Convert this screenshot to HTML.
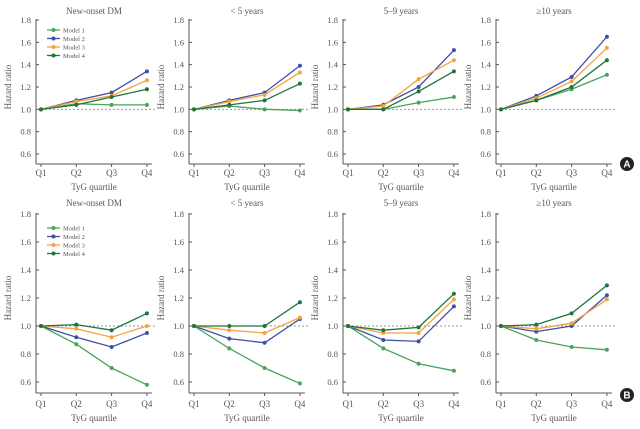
<!DOCTYPE html>
<html><head><meta charset="utf-8"><style>
body{margin:0;background:#fff;width:640px;height:429px;overflow:hidden}
svg{display:block}
text{font-family:"Liberation Serif",serif;fill:#555}
</style></head><body>
<svg id="c" width="640" height="429"></svg>
<script>
const categories=["Q1","Q2","Q3","Q4"];
const models=["Model 1","Model 2","Model 3","Model 4"];
const colors=["#4aa35c","#3f4fa8","#f5a33c","#1f743c"];
const yTicks=[0.6,0.8,1.0,1.2,1.4,1.6,1.8];
const titles=["New-onset DM","< 5 years","5–9 years","≥10 years"];
const topP1=[[1,1.05,1.04,1.04],[1,1.08,1.15,1.34],[1,1.07,1.12,1.26],[1,1.04,1.11,1.18]];
const topP2=[[1,1.03,1.0,0.99],[1,1.08,1.15,1.39],[1,1.07,1.13,1.33],[1,1.04,1.08,1.23]];
const topP3=[[1,1.0,1.06,1.11],[1,1.04,1.2,1.53],[1,1.03,1.27,1.44],[1,1.0,1.16,1.34]];
const topP4=[[1,1.08,1.18,1.31],[1,1.12,1.29,1.65],[1,1.1,1.25,1.55],[1,1.08,1.2,1.44]];
const botP1=[[1,0.87,0.70,0.58],[1,0.92,0.85,0.95],[1,0.98,0.92,1.0],[1,1.01,0.97,1.09]];
const botP2=[[1,0.84,0.70,0.59],[1,0.91,0.88,1.05],[1,0.97,0.95,1.06],[1,1.0,1.0,1.17]];
const botP3=[[1,0.84,0.73,0.68],[1,0.90,0.89,1.14],[1,0.95,0.95,1.19],[1,0.97,0.99,1.23]];
const botP4=[[1,0.90,0.85,0.83],[1,0.96,1.0,1.22],[1,0.98,1.02,1.19],[1,1.01,1.09,1.29]];
const topData=[topP1,topP2,topP3,topP4];
const botData=[botP1,botP2,botP3,botP4];

const svg=document.getElementById('c');
const NS="http://www.w3.org/2000/svg";
function el(t,a,p){const e=document.createElementNS(NS,t);for(const k in a)e.setAttribute(k,a[k]);(p||svg).appendChild(e);return e;}
function txt(s,a,p){const e=el('text',a,p);e.textContent=s;return e;}

const rows=[{data:topData,y18:20,y06:154,bottom:164,ql:176,xl:190,tl:14,name:'top',badge:'A',by:164},
            {data:botData,y18:214,y06:382,bottom:393,ql:407,xl:421,tl:206,name:'bottom',badge:'B',by:395}];
const offs=[0,153,307,460];
rows.forEach((r,ri)=>{
  const yS=v=>r.y06+(v-0.6)*(r.y18-r.y06)/1.2;
  r.data.forEach((pd,pi)=>{
    const g=el('g',{});
    
    
    const ax=36+offs[pi];
    const xS=i=>ax+5+i*35.3;
    const t=txt(titles[pi],{x:ax+58,y:r.tl,'font-size':9,'text-anchor':'middle'},g);
    
    
    el('line',{x1:ax,y1:r.y18-1,x2:ax,y2:r.bottom,stroke:'#555','stroke-width':1},g);
    el('line',{x1:ax,y1:r.bottom,x2:xS(3)+5,y2:r.bottom,stroke:'#555','stroke-width':1},g);
    yTicks.forEach(v=>{
      el('line',{x1:ax,y1:yS(v),x2:ax+3,y2:yS(v),stroke:'#555'},g);
      const l=txt(v.toFixed(1),{x:ax-5,y:yS(v)+3,'font-size':8.5,'text-anchor':'end'},g);
      
      
    });
    categories.forEach((c,i)=>{
      el('line',{x1:xS(i),y1:r.bottom,x2:xS(i),y2:r.bottom+3,stroke:'#555'},g);
      const l=txt(c,{x:xS(i),y:r.ql,'font-size':9,'text-anchor':'middle'},g);
      
      
    });
    const xt=txt('TyG quartile',{x:ax+58,y:r.xl,'font-size':9,'text-anchor':'middle'},g);
    
    
    const yt=txt('Hazard ratio',{x:0,y:0,'font-size':9,'text-anchor':'middle',transform:`translate(${ax-25},${yS(1.2)}) rotate(-90)`},g);
    
    
    el('line',{x1:xS(0),y1:yS(1),x2:xS(3)+8,y2:yS(1),stroke:'#999','stroke-dasharray':'2,2'},g);
    pd.forEach((s,si)=>{
      const pl=el('polyline',{points:s.map((v,i)=>xS(i)+','+yS(v)).join(' '),fill:'none',stroke:colors[si],'stroke-width':1.3},g);
      
      
      s.forEach((v,i)=>{
        const c=el('circle',{cx:xS(i),cy:yS(v),r:2,fill:colors[si]},g);
        
        
      });
    });
    if(pi===0){
      const lg=el('g',{},g);
      
      
      models.forEach((m,mi)=>{
        const ly=(ri===0?30:228)+mi*(ri===0?8.5:8.5);
        el('line',{x1:47,y1:ly,x2:60,y2:ly,stroke:colors[mi],'stroke-width':1.3},lg);
        el('circle',{cx:53.5,cy:ly,r:2,fill:colors[mi]},lg);
        const lt=txt(m,{x:63,y:ly+2.5,'font-size':6.5},lg);
        
        
      });
    }
  });
  const b=el('g',{});
  
  
  el('circle',{cx:627,cy:r.by,r:7,fill:'#222'},b);
  const bt=txt(r.badge,{x:627,y:r.by+3.5,'font-size':10,'font-weight':'bold','text-anchor':'middle',style:'fill:#fff;font-family:"Liberation Sans",sans-serif'},b);
});
</script>
</body></html>
